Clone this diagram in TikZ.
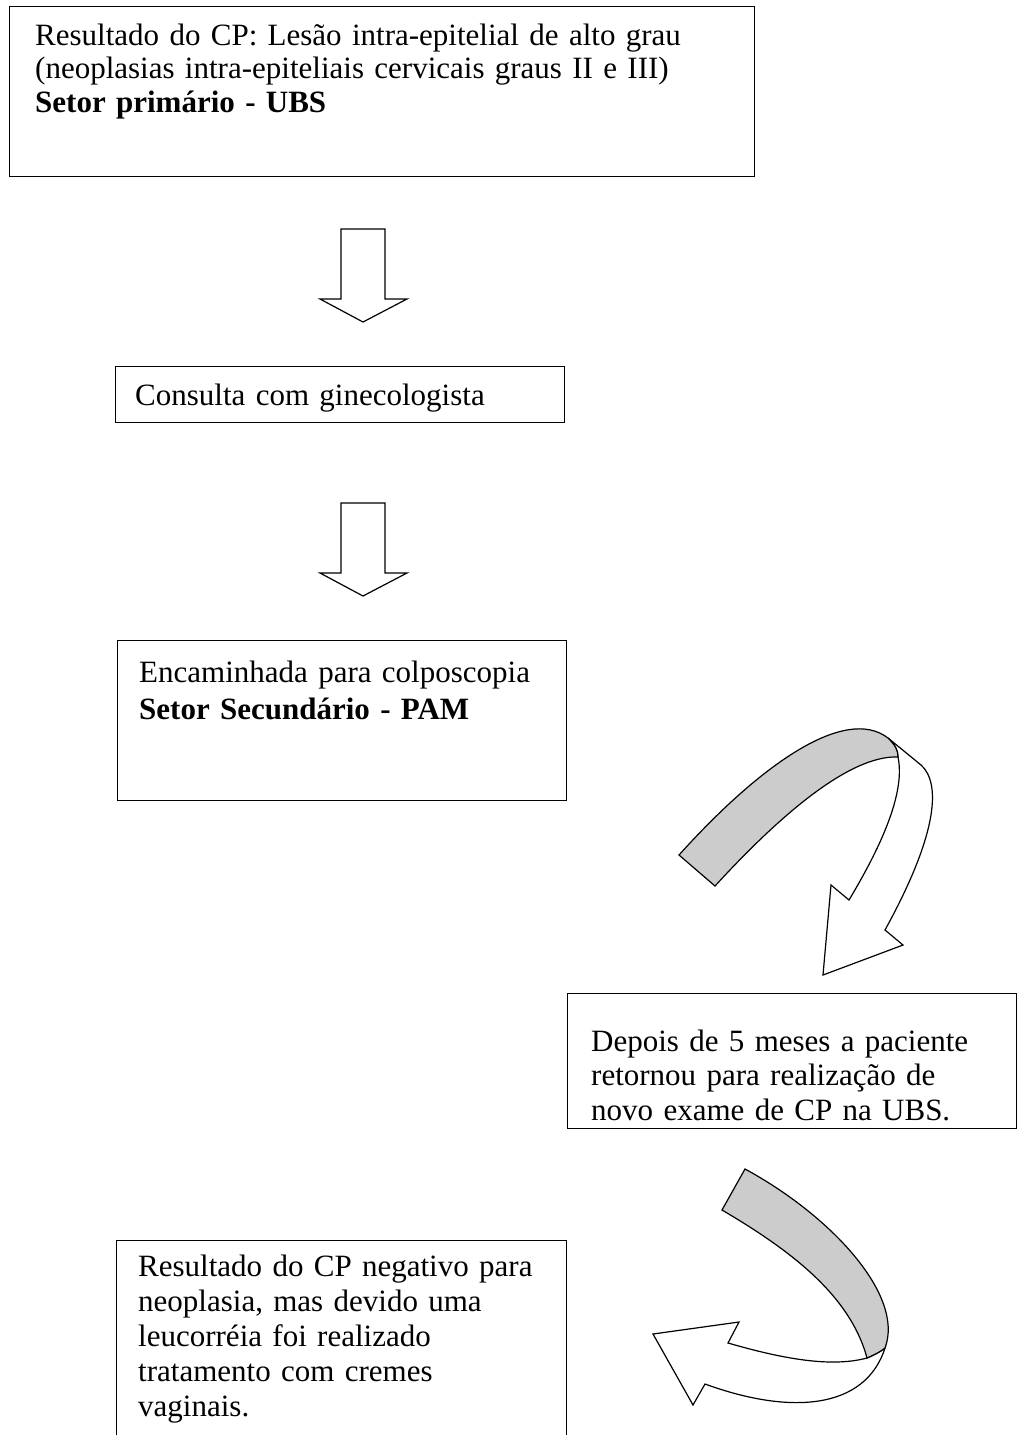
\documentclass[tikz,border=0pt]{standalone}
\usepackage{fontspec}
\setmainfont{Liberation Serif}
\begin{document}
\begin{tikzpicture}[x=1pt,y=-1pt,
  box/.style={draw=black, line width=1.1pt, anchor=north west, inner sep=0pt},
  txt/.style={anchor=base west, inner sep=0pt, align=left, text width=720pt,
    font=\fontsize{31}{#1}\selectfont},
  txt/.default=34,
  shape line/.style={draw=black, line width=1.2pt, line join=miter},
  band/.style={shape line, fill=black!20},
  blockdown/.pic={
    \draw[shape line, fill=white] (-22,-93) -- (22,-93) -- (22,-23) -- (44,-23)
      -- (0,0) -- (-43,-23) -- (-22,-23) -- cycle;
  }]
\useasboundingbox (0,0) rectangle (1017,1435);

% boxes of the flow
\node[box, minimum width=745pt, minimum height=170pt] (b1) at (9,6) {};
\node[txt=33.5] (t1) at (35,45) {Resultado do CP: Lesão intra-epitelial de alto grau\\
  (neoplasias intra-epiteliais cervicais graus II e III)\\
  \textbf{Setor primário - UBS}};

\node[box, minimum width=449pt, minimum height=56pt] (b2) at (115,366) {};
\node[txt] (t2) at (135,405) {Consulta com ginecologista};

\node[box, minimum width=449pt, minimum height=160pt] (b3) at (117,640) {};
\node[txt=37] (t3) at (139,682) {Encaminhada para colposcopia\\
  \textbf{Setor Secundário - PAM}};

\node[box, minimum width=449pt, minimum height=135pt] (b4) at (567,993) {};
\node[txt=34.5] (t4) at (591,1051) {Depois de 5 meses a paciente\\
  retornou para realização de\\
  novo exame de CP na UBS.};

\node[box, minimum width=450pt, minimum height=230pt] (b5) at (116,1240) {};
\node[txt=35] (t5) at (138,1276) {Resultado do CP negativo para\\
  neoplasia, mas devido uma\\
  leucorréia foi realizado\\
  tratamento com cremes\\
  vaginais.};

% straight block arrows
\pic at (363,322) {blockdown};
\pic at (363,596) {blockdown};

% upper curved arrow: white head part
\draw[shape line, fill=white] (888,738) -- (921,765)
  .. controls (940,782) and (940,830) .. (885,930)
  -- (903,945) -- (823,975) -- (831,885) -- (849,900)
  .. controls (885,840) and (905,790) .. (898,757)
  .. controls (898,750) and (895,745) .. cycle;
% upper curved arrow: shaded band
\draw[band] (679,855) .. controls (760,765) and (845,705) .. (888,738)
  .. controls (895,745) and (898,750) .. (898,757)
  .. controls (850,755) and (780,815) .. (715,886) -- cycle;

% lower curved arrow: white head part
\draw[shape line, fill=white] (867,1358)
  .. controls (830,1368) and (780,1358) .. (728,1343)
  -- (739,1322) -- (653,1334) -- (693,1405) -- (705,1384)
  .. controls (790,1415) and (865,1410) .. (885,1348)
  .. controls (880,1352) and (874,1355) .. cycle;
% lower curved arrow: shaded band
\draw[band] (745,1169) .. controls (830,1215) and (905,1295) .. (885,1348)
  .. controls (880,1352) and (874,1355) .. (867,1358)
  .. controls (850,1295) and (790,1250) .. (722,1210) -- cycle;
\end{tikzpicture}
\end{document}
